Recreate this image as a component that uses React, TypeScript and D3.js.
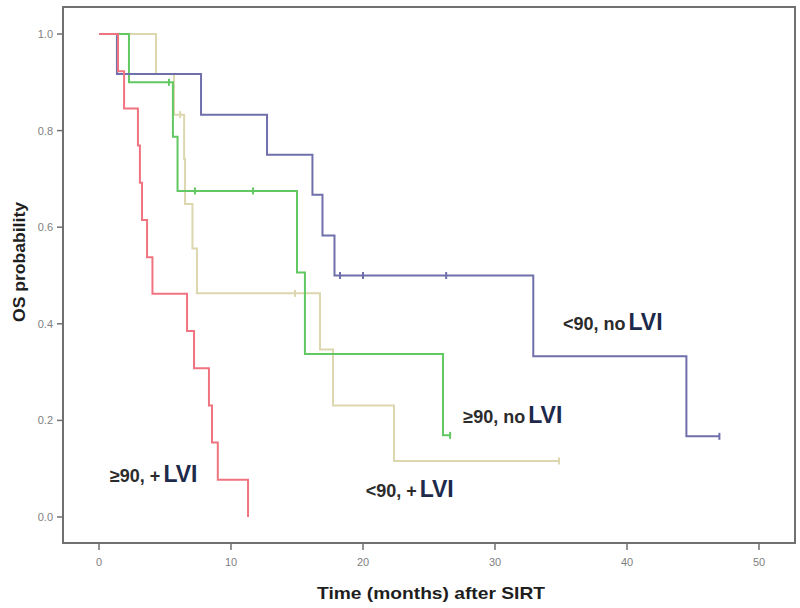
import React from "react";
import * as d3 from "d3";

// ---- data ----
const xTicks = [0, 10, 20, 30, 40, 50];
const yTicks = [0, 0.2, 0.4, 0.6, 0.8, 1.0];

// <90, no LVI
const blueTimes = [1.36, 7.73, 12.73, 16.17, 16.93, 17.84, 32.9, 44.5];
const blueSurv = [0.917, 0.833, 0.75, 0.667, 0.583, 0.5, 0.333, 0.167];
const blueCensor = [18.26, 20.0, 26.3, 47.0];

// >=90, no LVI
const greenTimes = [2.27, 5.6, 5.95, 15.0, 15.6, 26.06];
const greenSurv = [0.9, 0.7875, 0.675, 0.506, 0.3375, 0.169];
const greenCensor = [5.3, 7.27, 11.67, 26.6];

// <90, + LVI
const tanTimes = [4.32, 5.68, 6.45, 6.52, 7.08, 7.42, 16.74, 17.73, 22.35];
const tanSurv = [0.917, 0.833, 0.741, 0.648, 0.556, 0.463, 0.347, 0.231, 0.116];
const tanCensor = [6.15, 14.85, 34.85];

// >=90, + LVI
const redTimes = [1.44, 1.9, 2.95, 3.1, 3.26, 3.64, 4.05, 6.67, 7.2, 8.33, 8.56, 9.0, 11.29];
const redSurv = [0.923, 0.846, 0.769, 0.692, 0.615, 0.538, 0.462, 0.385, 0.308, 0.231, 0.154, 0.077, 0];
const redCensor: number[] = [];

const seriesNames = ["<90, + LVI", "≥90, no LVI", "<90, no LVI", "≥90, + LVI"];

// annotation anchors in data units (months, probability)
const labelPrefixes = ["<90, no", "≥90, no", "<90, +", "≥90, +"];
const labelT = [35.15, 27.6, 20.2, 0.83];
const labelS = [0.387, 0.195, 0.041, 0.072];

const W = 800;
const H = 608;

type Series = { name: string; times: number[]; surv: number[]; censor: number[]; color: string };

const series: Series[] = [
  { name: seriesNames[0], times: tanTimes, surv: tanSurv, censor: tanCensor, color: "#dcd7ae" },
  { name: seriesNames[1], times: greenTimes, surv: greenSurv, censor: greenCensor, color: "#62c862" },
  { name: seriesNames[2], times: blueTimes, surv: blueSurv, censor: blueCensor, color: "#6f6fab" },
  { name: seriesNames[3], times: redTimes, surv: redSurv, censor: redCensor, color: "#f07480" },
];

function survAt(s: Series, t: number) {
  let v = 1;
  for (let i = 0; i < s.times.length; i++) if (s.times[i] <= t) v = s.surv[i];
  return v;
}

export default function App() {
  const x = d3.scaleLinear().domain([0, 50]).range([99, 759]);
  const y = d3.scaleLinear().domain([0, 1]).range([517, 34]);
  const frame = { left: 63, top: 7, right: 795, bottom: 543 };

  const line = d3
    .line<[number, number]>()
    .x((d) => x(d[0]))
    .y((d) => y(d[1]))
    .curve(d3.curveStepAfter);

  const axisColor = "#707070";
  const font = "Arial, 'Liberation Sans', sans-serif";

  return (
    <svg
      width={W}
      height={H}
      style={{ position: "absolute", left: 0, top: 0, background: "#fff" }}
      fontFamily={font}
    >
      <rect x={0} y={0} width={W} height={H} fill="#fff" />
      {/* frame */}
      <rect
        x={frame.left}
        y={frame.top}
        width={frame.right - frame.left}
        height={frame.bottom - frame.top}
        fill="none"
        stroke={axisColor}
        strokeWidth={2}
      />
      {/* y ticks */}
      {yTicks.map((v) => (
        <g key={"y" + v}>
          <line x1={frame.left - 6} x2={frame.left} y1={y(v)} y2={y(v)} stroke={axisColor} strokeWidth={1.5} />
          <text x={frame.left - 10} y={y(v) + 4} textAnchor="end" fontSize={11} fill="#808080">
            {v.toFixed(1)}
          </text>
        </g>
      ))}
      {/* x ticks */}
      {xTicks.map((v) => (
        <g key={"x" + v}>
          <line x1={x(v)} x2={x(v)} y1={frame.bottom} y2={frame.bottom + 7} stroke={axisColor} strokeWidth={1.5} />
          <text x={x(v)} y={frame.bottom + 23} textAnchor="middle" fontSize={11} fill="#808080">
            {v}
          </text>
        </g>
      ))}
      {/* axis titles */}
      <text
        transform={`translate(25,262) rotate(-90)`}
        textAnchor="middle"
        fontSize={17}
        fontWeight="bold"
        fill="#1e1e1e"
        textLength={120}
        lengthAdjust="spacingAndGlyphs"
      >
        OS probability
      </text>
      <text
        x={431}
        y={599}
        textAnchor="middle"
        fontSize={17}
        fontWeight="bold"
        fill="#1e1e1e"
        textLength={228}
        lengthAdjust="spacingAndGlyphs"
      >
        Time (months) after SIRT
      </text>
      {/* curves */}
      {series.map((s) => {
        const pts: [number, number][] = [[0, 1]];
        s.times.forEach((t, i) => pts.push([t, s.surv[i]]));
        const lastC = s.censor.length ? Math.max(...s.censor) : 0;
        const lastT = s.times[s.times.length - 1];
        if (lastC > lastT) pts.push([lastC, s.surv[s.surv.length - 1]]);
        return (
          <g key={s.name}>
            <path d={line(pts) || ""} fill="none" stroke={s.color} strokeWidth={2} />
            {s.censor.map((c, i) => (
              <line
                key={i}
                x1={x(c)}
                x2={x(c)}
                y1={y(survAt(s, c)) - 3.5}
                y2={y(survAt(s, c)) + 3.5}
                stroke={s.color}
                strokeWidth={2}
              />
            ))}
          </g>
        );
      })}
      {/* labels */}
      {labelPrefixes.map((p, i) => (
        <text key={p} x={x(labelT[i])} y={y(labelS[i])} fill="#2b2b2b">
          <tspan fontSize={18} fontWeight="bold">
            {p}
          </tspan>
          <tspan dx={3} fontSize={23} fontWeight="bold" fill="#1d2a4c">
            LVI
          </tspan>
        </text>
      ))}
    </svg>
  );
}
